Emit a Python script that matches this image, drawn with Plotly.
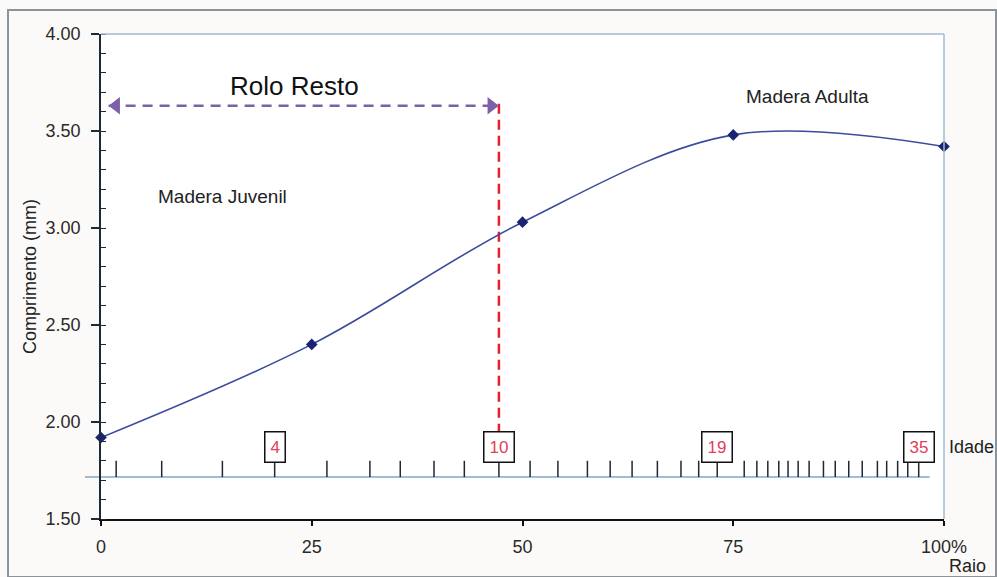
import plotly.graph_objects as go

# Fibre length (mm) along the radius (% of pith-to-bark distance)
radius_pct = [0, 25, 50, 75, 100]
fibre_length = [1.92, 2.40, 3.03, 3.48, 3.42]

# Annual-ring positions along the radius, ages 1..35
ring_ages = list(range(1, 36))
ring_pos = [1.8, 7.2, 14.4, 20.6, 26.8, 31.9, 35.5, 39.5, 43.1, 47.2,
            50.9, 54.2, 57.7, 60.4, 63.0, 66.0, 68.8, 70.9, 73.1, 76.3,
            77.8, 79.1, 80.4, 81.5, 82.7, 84.0, 85.7, 87.1, 88.7, 90.3,
            92.1, 93.2, 94.5, 95.7, 97.0]
labelled_ages = [4, 10, 19, 35]

x_ticks = [0, 25, 50, 75, 100]
x_ticktext = ["0", "25", "50", "75", "100%"]

# Reference levels on the length axis for the age ruler and the log split
ruler_level = 1.716
ruler_tick_top = 1.80
age_box_level = 1.87
split_age = 10
split_top = 3.64
split_bottom = 1.94
arrow_level = 3.63
arrow_start = 0.9

X_RANGE = [0, 100]
Y_RANGE = [1.5, 4.0]
FONT = "Arial, Liberation Sans, sans-serif"


def paper_x(v):
    return (v - X_RANGE[0]) / (X_RANGE[1] - X_RANGE[0])


split_x = ring_pos[ring_ages.index(split_age)]

fig = go.Figure()

# age ruler ticks
tx, ty = [], []
for p in ring_pos:
    tx += [p, p, None]
    ty += [ruler_level, ruler_tick_top, None]
fig.add_trace(go.Scatter(x=tx, y=ty, mode="lines",
                         line=dict(color="#1c2833", width=1.5),
                         hoverinfo="skip", showlegend=False))

# split between log and remainder
fig.add_trace(go.Scatter(x=[split_x, split_x], y=[split_top, split_bottom],
                         mode="lines",
                         line=dict(color="#e8202a", width=2.5, dash="10px,6px"),
                         hoverinfo="skip", showlegend=False))

# "Rolo Resto" double arrow
fig.add_trace(go.Scatter(x=[arrow_start, split_x], y=[arrow_level, arrow_level],
                         mode="lines",
                         line=dict(color="#7d61a8", width=2.5, dash="10px,7px"),
                         hoverinfo="skip", showlegend=False))
fig.add_trace(go.Scatter(x=[arrow_start + 0.9, split_x - 0.9],
                         y=[arrow_level, arrow_level], mode="markers",
                         marker=dict(symbol=["triangle-left", "triangle-right"],
                                     size=15, color="#7d61a8"),
                         cliponaxis=False, hoverinfo="skip", showlegend=False))

# fibre length curve
fig.add_trace(go.Scatter(x=radius_pct, y=fibre_length, mode="lines+markers",
                         line=dict(color="#3d4b9c", width=1.6, shape="spline",
                                   smoothing=1),
                         marker=dict(symbol="diamond", size=9, color="#1b2373"),
                         cliponaxis=False, showlegend=False))

annotations = [
    dict(x=23.0, y=3.73, text="Rolo Resto", showarrow=False,
         font=dict(size=26, color="#111111")),
    dict(x=14.4, y=3.16, text="Madera Juvenil", showarrow=False,
         font=dict(size=19, color="#222222")),
    dict(x=83.8, y=3.68, text="Madera Adulta", showarrow=False,
         font=dict(size=19, color="#222222")),
    dict(xref="paper", x=1.033, y=age_box_level, text="Idade", showarrow=False,
         xanchor="center", font=dict(size=18, color="#222222")),
    dict(xref="paper", yref="paper", x=1.028, y=-0.097, text="Raio",
         xanchor="center", yanchor="middle", showarrow=False,
         font=dict(size=18, color="#222222")),
]
for a in labelled_ages:
    annotations.append(dict(
        x=ring_pos[ring_ages.index(a)], y=age_box_level, text=str(a),
        showarrow=False, font=dict(size=17, color="#e0405a"),
        bordercolor="#111111", borderwidth=1.5, borderpad=5,
        bgcolor="#ffffff"))

shapes = [
    # age ruler baseline (extends past the axes)
    dict(type="line", xref="paper", yref="y",
         x0=paper_x(-1.9), x1=paper_x(98.3), y0=ruler_level, y1=ruler_level,
         line=dict(color="#7fa7c9", width=1.5), layer="below"),
    # light top/right frame of the plotting area
    dict(type="line", xref="paper", yref="paper", x0=0, x1=1, y0=1, y1=1,
         line=dict(color="#a3bbd1", width=1.5)),
    dict(type="line", xref="paper", yref="paper", x0=1, x1=1, y0=0, y1=1,
         line=dict(color="#a3bbd1", width=1.5)),
    # outer chart frame
    dict(type="rect", xref="paper", yref="paper",
         x0=-0.1103, x1=1.0617, y0=-0.1196, y1=1.0495,
         line=dict(color="#8c9399", width=2)),
]

fig.update_layout(
    width=997, height=577,
    margin=dict(l=101, r=53, t=34, b=58),
    paper_bgcolor="#fcfaf8", plot_bgcolor="#ffffff",
    font=dict(family=FONT, color="#222222"),
    annotations=annotations, shapes=shapes,
    showlegend=False,
    xaxis=dict(range=X_RANGE, tickvals=x_ticks, ticktext=x_ticktext,
               showgrid=False, zeroline=False, showline=True,
               linecolor="#111111", linewidth=1.5,
               ticks="outside", ticklen=5, tickwidth=1.5, tickcolor="#111111",
               ticklabelstandoff=6,
               tickfont=dict(size=18, color="#2a2a2a")),
    yaxis=dict(range=Y_RANGE, dtick=0.5, tick0=1.5, tickformat=".2f",
               showgrid=False, zeroline=False, showline=True,
               linecolor="#1e2a38", linewidth=1.5,
               ticks="outside", ticklen=8, tickwidth=1.5, tickcolor="#1e2a38",
               ticklabelstandoff=7,
               minor=dict(dtick=0.1, ticks="inside", ticklen=5,
                          tickwidth=1.2, tickcolor="#1e2a38", showgrid=False),
               tickfont=dict(size=18, color="#2a2a2a"),
               title=dict(text="Comprimento (mm)", standoff=4,
                          font=dict(size=18, color="#222222"))),
)

fig.write_html("out.html")
